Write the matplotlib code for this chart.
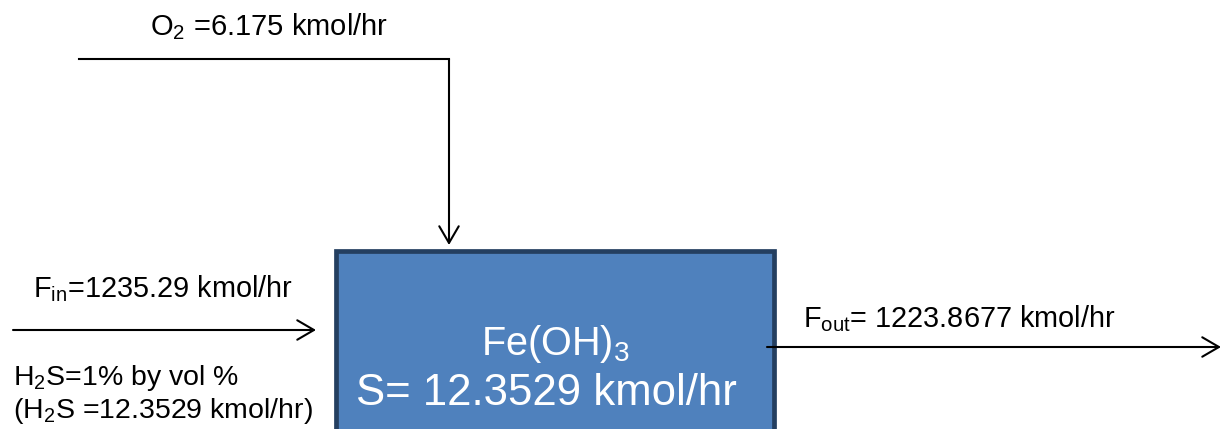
import matplotlib
matplotlib.use("Agg")
import matplotlib.pyplot as plt
from matplotlib.patches import Rectangle, FancyArrowPatch

FONT = "Liberation Sans"
plt.rcParams['font.family'] = [FONT, 'DejaVu Sans']
plt.rcParams['mathtext.fontset'] = 'custom'
plt.rcParams['mathtext.rm'] = FONT
plt.rcParams['mathtext.it'] = FONT
plt.rcParams['mathtext.default'] = 'rm'

# labels
o2_label = r"O$_2$ =6.175 kmol/hr"
fin_label = r"F$_{in}$=1235.29 kmol/hr"
h2s_label1 = r"H$_2$S=1% by vol %"
h2s_label2 = r"(H$_2$S =12.3529 kmol/hr)"
box_label1 = r"Fe(OH)$_3$"
box_label2 = "S= 12.3529 kmol/hr"
fout_label = r"F$_{out}$= 1223.8677 kmol/hr"

W, H = 1223, 429
fig = plt.figure(figsize=(W / 100, H / 100), dpi=100)
ax = fig.add_axes([0, 0, 1, 1])
ax.set_xlim(0, W)
ax.set_ylim(H, 0)
ax.axis('off')

# reactor box
ax.add_patch(Rectangle((335.5, 250.5), 438, 190, facecolor='#4F81BD',
                       edgecolor='#243F60', linewidth=3.4, zorder=2))

arrow_kw = dict(arrowstyle='->,head_length=12,head_width=7', color='black',
                linewidth=1.5, shrinkA=0, shrinkB=0, mutation_scale=1, zorder=3)
# O2 line + arrow
ax.plot([79, 449], [59, 59], color='black', linewidth=1.5, solid_capstyle='projecting')
ax.add_patch(FancyArrowPatch((449, 59), (449, 245), **arrow_kw))
# Fin arrow
ax.add_patch(FancyArrowPatch((13, 330), (316, 330), **arrow_kw))
# Fout arrow
ax.add_patch(FancyArrowPatch((767, 347), (1221, 347), **arrow_kw))

ax.text(150, 35, o2_label, fontsize=21, ha='left', va='baseline')
ax.text(33, 297, fin_label, fontsize=20.8, ha='left', va='baseline')
ax.text(13, 385, h2s_label1, fontsize=20.5, ha='left', va='baseline')
ax.text(13, 418, h2s_label2, fontsize=20.5, ha='left', va='baseline')
ax.text(803, 327, fout_label, fontsize=20.8, ha='left', va='baseline')
ax.text(555, 355, box_label1, fontsize=28.5, ha='center', va='baseline', color='white', zorder=4)
ax.text(546, 405, box_label2, fontsize=31.5, ha='center', va='baseline', color='white', zorder=4)

fig.savefig("out.png", dpi=100)
